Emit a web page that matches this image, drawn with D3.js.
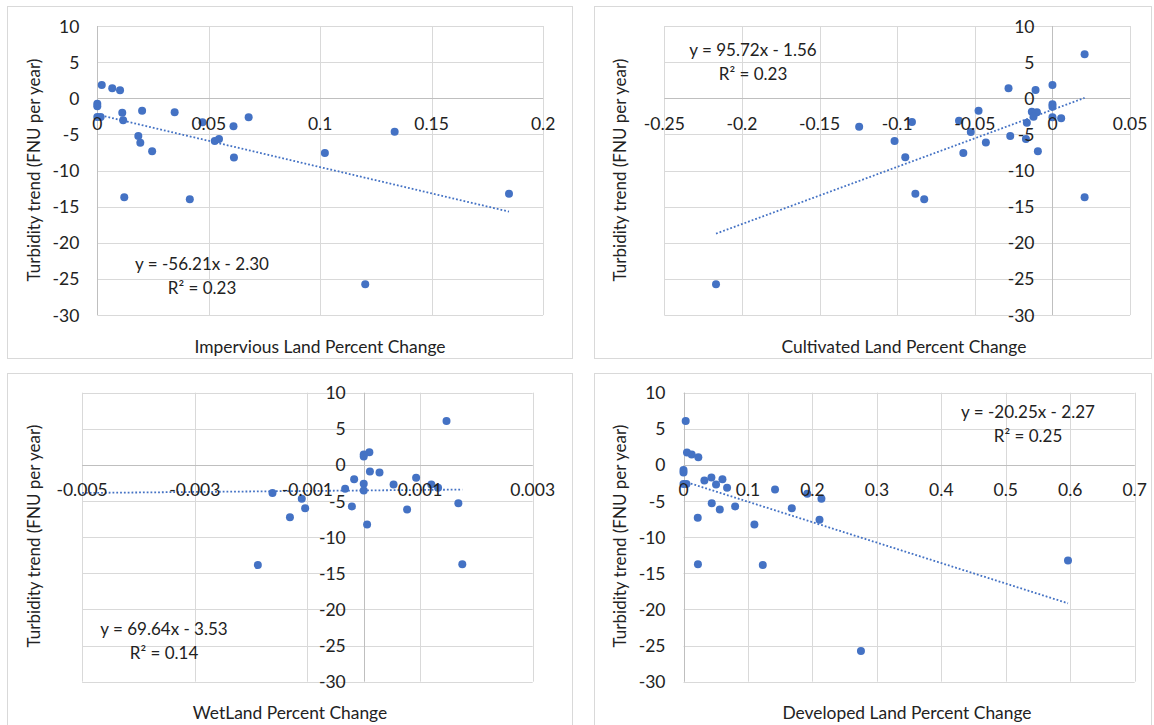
<!DOCTYPE html>
<html>
<head>
<meta charset="utf-8">
<script src="https://cdn.jsdelivr.net/npm/d3@7"></script>
<style>
  html, body { margin: 0; padding: 0; background: #ffffff; }
  svg { display: block; font-family: Lato, "Open Sans", sans-serif; }
</style>
</head>
<body>
<svg id="chart" width="1154" height="725"></svg>
<script>
// Turbidity trend (FNU per year) against land-cover percent change, one scatter per land class.

const turbidityTicks = [10, 5, 0, -5, -10, -15, -20, -25, -30];

// Impervious land
const imperviousChange = [0.002, 0.0067, 0.0102, 0, 0, 0.0112, 0.0201, 0.0347, 0, 0.0015, 0.0116, 0.0472, 0.0611, 0.0679,
  0.0184, 0.0193, 0.0246, 0.0527, 0.0546, 0.0613, 0.0121, 0.0415, 0.1021, 0.1334, 0.1847, 0.1202];
const imperviousTrend = [1.85, 1.39, 1.11, -0.75, -1.11, -2.0, -1.72, -1.95, -2.6, -2.6, -3.06, -3.33, -3.89, -2.64,
  -5.24, -6.17, -7.32, -5.93, -5.65, -8.19, -13.71, -13.99, -7.58, -4.63, -13.21, -25.76];
const imperviousTicks = [0, 0.05, 0.1, 0.15, 0.2];

// Cultivated land
const cultivatedChange = [0.0207, 0, -0.0283, -0.0109, 0, 0, -0.0476, -0.0133, -0.010, -0.0122, 0, 0.0056, -0.0602,
  -0.0905, -0.0165, -0.1245, -0.0526, -0.0272, -0.0171, -0.1017, -0.0429, -0.0094, -0.0574, -0.0948, -0.0883, -0.0826,
  0.0207, -0.2167];
const cultivatedTrend = [6.08, 1.85, 1.39, 1.15, -0.83, -1.17, -1.72, -1.86, -1.95, -2.55, -2.64, -2.78, -3.10,
  -3.29, -3.38, -3.93, -4.67, -5.24, -5.65, -5.92, -6.11, -7.32, -7.58, -8.18, -13.21, -13.99,
  -13.71, -25.76];
const cultivatedTicks = [-0.25, -0.2, -0.15, -0.1, -0.05, 0, 0.05];

// Wetland
const wetlandChange = [0.00147, 0.0001, 0, 0, 0.00011, 0.00028, -0.00017, 0.00093, 0, 0.00053, 0.0012, 0.00132,
  -0.00033, 0, -0.00162, -0.0011, 0.00168, -0.00021, -0.00104, 0.00077, -0.00131, 0.00006, -0.00188, 0.00175];
const wetlandTrend = [6.08, 1.77, 1.45, 1.18, -0.90, -1.04, -1.97, -1.77, -2.6, -2.7, -2.7, -3.16,
  -3.3, -3.53, -3.88, -4.68, -5.29, -5.75, -5.98, -6.16, -7.24, -8.24, -13.84, -13.75];
const wetlandTicks = [-0.005, -0.003, -0.001, 0.001, 0.003];
// slope and intercept of the wetland trendline, as printed on the chart
const wetlandFit = [69.64, -3.53];

// Developed land
const developedChange = [0.0034, 0.0054, 0.0127, 0.023, 0, 0, 0.0324, 0.0433, 0.0604, 0, 0.0046, 0.0505, 0.0676,
  0.142, 0.192, 0.214, 0.0438, 0.0563, 0.0801, 0.168, 0.0221, 0.211, 0.110, 0.0224, 0.123, 0.5965, 0.2753];
const developedTrend = [6.08, 1.73, 1.45, 1.08, -0.70, -1.03, -2.15, -1.73, -1.97, -2.64, -2.64, -2.7, -3.16,
  -3.4, -3.99, -4.68, -5.29, -6.16, -5.75, -5.98, -7.3, -7.6, -8.24, -13.76, -13.85, -13.21, -25.76];
const developedTicks = [0, 0.1, 0.2, 0.3, 0.4, 0.5, 0.6, 0.7];

const axisTitles = ["Impervious Land Percent Change", "Cultivated Land Percent Change",
  "WetLand Percent Change", "Developed Land Percent Change"];
const yTitle = "Turbidity trend (FNU per year)";
const fitEquations = ["y = -56.21x - 2.30", "y = 95.72x - 1.56", "y = 69.64x - 3.53", "y = -20.25x - 2.27"];
const fitR2 = ["R\u00B2 = 0.23", "R\u00B2 = 0.23", "R\u00B2 = 0.14", "R\u00B2 = 0.25"];

// Layout of the four chart frames
const frames = [
  { box: [7.5, 6.5, 565, 352], plot: [97.3, 543.1, 26, 315], xTitle: [320, 346], yTitle: [33.5, 170], eq: [202, 263] },
  { box: [594.5, 6.5, 557, 352], plot: [664.3, 1130.1, 26, 315], xTitle: [904, 346], yTitle: [619, 170], eq: [753, 49] },
  { box: [7.5, 373.5, 565, 352], plot: [82.1, 532.7, 392.7, 681.7], xTitle: [290, 712], yTitle: [33.5, 536], eq: [164, 628] },
  { box: [594.5, 373.5, 557, 352], plot: [683.5, 1134.7, 392.7, 681.7], xTitle: [907, 712], yTitle: [619, 536], eq: [1028, 411] }
];

const series = [
  { x: imperviousChange, y: imperviousTrend, ticks: imperviousTicks, fit: null, span: null },
  { x: cultivatedChange, y: cultivatedTrend, ticks: cultivatedTicks, fit: null, span: null },
  { x: wetlandChange, y: wetlandTrend, ticks: wetlandTicks, fit: wetlandFit, span: [-0.005, null] },
  { x: developedChange, y: developedTrend, ticks: developedTicks, fit: null, span: null }
];

const BLUE = "#4472C4";
const GRID = "#d9d9d9";
const AXIS = "#bfbfbf";
const TEXT = "#222222";

// Ordinary least-squares line through the points
function leastSquares(xs, ys) {
  const mx = d3.mean(xs), my = d3.mean(ys);
  let sxy = 0, sxx = 0;
  xs.forEach((x, i) => { sxy += (x - mx) * (ys[i] - my); sxx += (x - mx) * (x - mx); });
  const slope = sxy / sxx;
  return { slope, intercept: my - slope * mx };
}

const svg = d3.select("#chart");
svg.append("rect").attr("width", 1154).attr("height", 725).attr("fill", "#ffffff");

series.forEach((s, k) => {
  const f = frames[k];
  const g = svg.append("g");

  // chart frame
  g.append("rect")
    .attr("x", f.box[0]).attr("y", f.box[1]).attr("width", f.box[2]).attr("height", f.box[3])
    .attr("fill", "#ffffff").attr("stroke", GRID).attr("stroke-width", 1);

  const x = d3.scaleLinear().domain(d3.extent(s.ticks)).range([f.plot[0], f.plot[1]]);
  const y = d3.scaleLinear().domain([-30, 10]).range([f.plot[3], f.plot[2]]);

  // gridlines
  g.append("g").selectAll("line").data(turbidityTicks).join("line")
    .attr("x1", f.plot[0]).attr("x2", f.plot[1])
    .attr("y1", d => Math.round(y(d)) + 0.5).attr("y2", d => Math.round(y(d)) + 0.5)
    .attr("stroke", GRID).attr("stroke-width", 1);
  g.append("g").selectAll("line").data(s.ticks).join("line")
    .attr("x1", d => Math.round(x(d)) + 0.5).attr("x2", d => Math.round(x(d)) + 0.5)
    .attr("y1", f.plot[2]).attr("y2", f.plot[3])
    .attr("stroke", GRID).attr("stroke-width", 1);

  // axis lines crossing at zero
  const x0 = Math.round(x(0)) + 0.5, y0 = Math.round(y(0)) + 0.5;
  g.append("line").attr("x1", f.plot[0]).attr("x2", f.plot[1]).attr("y1", y0).attr("y2", y0)
    .attr("stroke", AXIS).attr("stroke-width", 1);
  g.append("line").attr("x1", x0).attr("x2", x0).attr("y1", f.plot[2]).attr("y2", f.plot[3])
    .attr("stroke", AXIS).attr("stroke-width", 1);

  // linear trendline
  const fit = s.fit ? { slope: s.fit[0], intercept: s.fit[1] } : leastSquares(s.x, s.y);
  const ext = d3.extent(s.x);
  const lo = s.span && s.span[0] != null ? s.span[0] : ext[0];
  const hi = s.span && s.span[1] != null ? s.span[1] : ext[1];
  g.append("line")
    .attr("x1", x(lo)).attr("y1", y(fit.slope * lo + fit.intercept))
    .attr("x2", x(hi)).attr("y2", y(fit.slope * hi + fit.intercept))
    .attr("stroke", BLUE).attr("stroke-width", 1.8).attr("stroke-dasharray", "1.8 2");

  // points
  g.append("g").selectAll("circle").data(s.x.map((v, i) => [v, s.y[i]])).join("circle")
    .attr("cx", d => x(d[0])).attr("cy", d => y(d[1])).attr("r", 4)
    .attr("fill", BLUE);

  // tick labels
  g.append("g").selectAll("text").data(turbidityTicks).join("text")
    .attr("x", x(0) - 18).attr("y", d => y(d))
    .attr("text-anchor", "end").attr("dominant-baseline", "central")
    .attr("font-size", 17.5).attr("fill", TEXT)
    .text(d => String(d));
  g.append("g").selectAll("text").data(s.ticks).join("text")
    .attr("x", d => x(d)).attr("y", y(0) + 25)
    .attr("text-anchor", "middle").attr("dominant-baseline", "central")
    .attr("font-size", 17.5).attr("fill", TEXT)
    .text(d => String(d));

  // axis titles
  g.append("text").attr("x", f.xTitle[0]).attr("y", f.xTitle[1])
    .attr("text-anchor", "middle").attr("dominant-baseline", "central")
    .attr("font-size", 17.4).attr("fill", TEXT).text(axisTitles[k]);
  g.append("text")
    .attr("transform", `translate(${f.yTitle[0]},${f.yTitle[1]}) rotate(-90)`)
    .attr("text-anchor", "middle").attr("dominant-baseline", "central")
    .attr("font-size", 17).attr("fill", TEXT).text(yTitle);

  // regression label
  g.append("text").attr("x", f.eq[0]).attr("y", f.eq[1])
    .attr("text-anchor", "middle").attr("dominant-baseline", "central")
    .attr("font-size", 17).attr("fill", TEXT).text(fitEquations[k]);
  g.append("text").attr("x", f.eq[0]).attr("y", f.eq[1] + 24)
    .attr("text-anchor", "middle").attr("dominant-baseline", "central")
    .attr("font-size", 17).attr("fill", TEXT).text(fitR2[k]);
});
</script>
</body>
</html>
